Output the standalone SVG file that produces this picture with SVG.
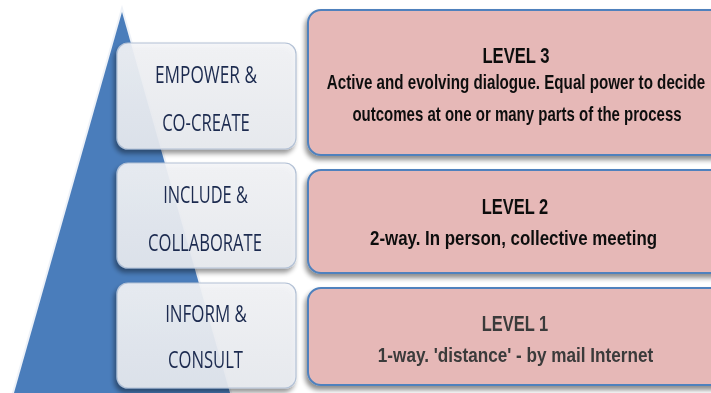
<svg xmlns="http://www.w3.org/2000/svg" width="711" height="393" viewBox="0 0 711 393">
  <defs>
    <filter id="softShadow" x="-10%" y="-20%" width="130%" height="150%">
      <feGaussianBlur in="SourceAlpha" stdDeviation="2.5"/>
      <feOffset dx="-2" dy="4" result="off"/>
      <feComponentTransfer><feFuncA type="linear" slope="0.45"/></feComponentTransfer>
      <feMerge><feMergeNode/><feMergeNode in="SourceGraphic"/></feMerge>
    </filter>
    <linearGradient id="tabFill" x1="0" y1="0" x2="0" y2="1">
      <stop offset="0" stop-color="#f4f5f8"/>
      <stop offset="1" stop-color="#e9ecf1"/>
    </linearGradient>
    <style>
      .tab { fill: url(#tabFill); fill-opacity: 0.9; stroke: #b4c2d6; stroke-width: 1.2; }
      .level { fill: #e6b8b7; stroke: #4f81bd; stroke-width: 2; }
      .tabText { font-family: "Open Sans", "Noto Sans", sans-serif; font-size: 23px; fill: #1d2c50; text-anchor: middle; }
      .head { font-family: "Liberation Sans", Arial, sans-serif; font-weight: bold; font-size: 22.5px; fill: #111; text-anchor: middle; }
      .desc { font-family: "Liberation Sans", Arial, sans-serif; font-weight: bold; font-size: 20px; fill: #111; text-anchor: middle; }
      .grey { fill: #3a3a3a; }
    </style>
  </defs>

  <rect width="711" height="393" fill="#ffffff"/>

  <!-- pyramid backdrop -->
  <g id="pyramid">
    <polygon points="122,12 12,400 232,400" fill="none" stroke="#eef2f8" stroke-width="4"/>
    <polygon points="122,12 12,400 232,400" fill="#4a7dbb"/>
  </g>

  <!-- left-hand tabs; labels are set in a condensed style by horizontal scaling -->
  <g id="tab-empower" filter="url(#softShadow)">
    <rect class="tab" x="117" y="43" width="179" height="106" rx="11"/>
    <text class="tabText" transform="translate(206 83) scale(0.75 1)" textLength="136" lengthAdjust="spacingAndGlyphs">EMPOWER &amp;</text>
    <text class="tabText" transform="translate(206 131) scale(0.75 1)" textLength="117" lengthAdjust="spacingAndGlyphs">CO-CREATE</text>
  </g>
  <g id="tab-include" filter="url(#softShadow)">
    <rect class="tab" x="117" y="163" width="179" height="105" rx="11"/>
    <text class="tabText" transform="translate(205.5 203) scale(0.75 1)" textLength="113" lengthAdjust="spacingAndGlyphs">INCLUDE &amp;</text>
    <text class="tabText" transform="translate(205 251) scale(0.75 1)" textLength="152" lengthAdjust="spacingAndGlyphs">COLLABORATE</text>
  </g>
  <g id="tab-inform" filter="url(#softShadow)">
    <rect class="tab" x="117" y="283" width="179" height="105" rx="11"/>
    <text class="tabText" transform="translate(206 322) scale(0.75 1)" textLength="109" lengthAdjust="spacingAndGlyphs">INFORM &amp;</text>
    <text class="tabText" transform="translate(205.5 368) scale(0.75 1)" textLength="100" lengthAdjust="spacingAndGlyphs">CONSULT</text>
  </g>

  <!-- right-hand level panels; narrow bold lettering -->
  <g id="level-3" filter="url(#softShadow)">
    <rect class="level" x="308" y="10" width="420" height="145" rx="13"/>
    <text class="head" transform="translate(516 63) scale(0.8 1)" textLength="84" lengthAdjust="spacingAndGlyphs">LEVEL 3</text>
    <text class="desc" transform="translate(516 89) scale(0.78 1)" textLength="485" lengthAdjust="spacingAndGlyphs">Active and evolving dialogue. Equal power to decide</text>
    <text class="desc" transform="translate(517 121) scale(0.78 1)" textLength="422" lengthAdjust="spacingAndGlyphs">outcomes at one or many parts of the process</text>
  </g>
  <g id="level-2" filter="url(#softShadow)">
    <rect class="level" x="308" y="170" width="420" height="103" rx="13"/>
    <text class="head" transform="translate(515 214) scale(0.8 1)" textLength="83" lengthAdjust="spacingAndGlyphs">LEVEL 2</text>
    <text class="desc" transform="translate(513.5 245) scale(0.78 1)" textLength="368" lengthAdjust="spacingAndGlyphs">2-way. In person, collective meeting</text>
  </g>
  <g id="level-1" filter="url(#softShadow)">
    <rect class="level" x="308" y="288" width="420" height="97" rx="13"/>
    <text class="head grey" transform="translate(515 331) scale(0.8 1)" textLength="83" lengthAdjust="spacingAndGlyphs">LEVEL 1</text>
    <text class="desc grey" transform="translate(515.5 362) scale(0.78 1)" textLength="353" lengthAdjust="spacingAndGlyphs">1-way. 'distance' - by mail Internet</text>
  </g>

  <!-- no connectors in this chart -->
  <g id="connectors"/>
</svg>
